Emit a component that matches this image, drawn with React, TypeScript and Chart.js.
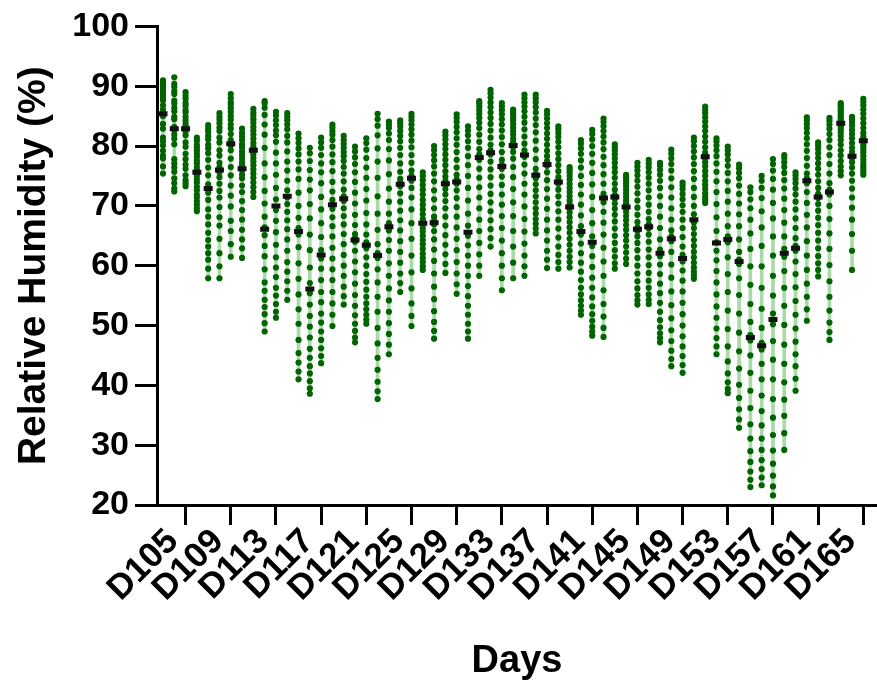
import React, { useEffect, useRef } from "react";
import { Chart, registerables } from "chart.js";

Chart.register(...registerables);

const days: number[] = [
  105, 106, 107, 108, 109, 110, 111, 112, 113, 114, 115, 116, 117, 118, 119, 120,
  121, 122, 123, 124, 125, 126, 127, 128, 129, 130, 131, 132, 133, 134, 135, 136,
  137, 138, 139, 140, 141, 142, 143, 144, 145, 146, 147, 148, 149, 150, 151, 152,
  153, 154, 155, 156, 157, 158, 159, 160, 161, 162, 163, 164, 165, 166, 167,
];

const tickDays: number[] = [105, 109, 113, 117, 121, 125, 129, 133, 137, 141, 145, 149, 153, 157, 161, 165];
const tickLabels: string[] = [
  "D105", "D109", "D113", "D117", "D121", "D125", "D129", "D133",
  "D137", "D141", "D145", "D149", "D153", "D157", "D161", "D165",
];

// hourly relative humidity readings for each day (%)
const humidity: number[][] = [
  [91.0, 90.5, 90.3, 89.9, 89.6, 89.1, 88.8, 88.4, 87.9, 87.6, 86.8, 86.1, 85.4, 85.0, 83.7, 82.9, 81.4, 80.8, 80.1, 79.2, 78.4, 77.9, 76.6, 75.4],
  [91.5, 90.4, 89.9, 89.2, 88.7, 87.6, 87.1, 86.4, 85.8, 84.9, 84.5, 83.2, 82.7, 81.9, 81.2, 80.3, 77.8, 77.1, 76.4, 75.7, 74.6, 73.8, 72.9, 72.4],
  [89.0, 88.4, 87.9, 87.2, 86.7, 86.0, 85.6, 84.9, 84.3, 83.7, 83.3, 82.9, 82.4, 81.8, 80.6, 79.9, 78.7, 77.8, 76.9, 76.2, 75.1, 74.3, 73.8, 73.3],
  [81.4, 80.9, 80.2, 79.8, 79.3, 78.7, 78.2, 77.6, 77.1, 76.5, 76.0, 75.8, 75.4, 75.0, 74.4, 73.9, 73.2, 72.6, 71.9, 71.4, 70.8, 70.2, 69.6, 69.1],
  [83.5, 82.9, 82.4, 81.7, 81.1, 80.2, 79.6, 78.8, 77.7, 76.4, 75.1, 73.6, 72.2, 71.0, 69.4, 68.2, 66.9, 65.5, 64.3, 63.2, 62.1, 61.0, 59.5, 57.9],
  [85.5, 84.9, 84.4, 83.8, 83.1, 82.5, 81.4, 80.6, 79.3, 78.4, 77.2, 76.5, 75.6, 74.8, 73.7, 72.5, 71.4, 69.8, 68.1, 66.7, 64.5, 62.1, 59.9, 57.9],
  [88.7, 88.0, 87.3, 86.9, 86.3, 85.7, 85.0, 84.4, 83.6, 82.9, 82.0, 81.0, 80.1, 79.3, 77.9, 76.5, 75.1, 73.4, 71.7, 69.9, 67.5, 65.8, 63.6, 61.5],
  [82.9, 82.2, 81.6, 81.0, 80.3, 79.8, 79.1, 78.5, 77.9, 77.3, 76.8, 76.4, 75.9, 75.2, 74.6, 73.4, 72.3, 70.8, 69.3, 67.7, 66.0, 64.4, 62.9, 61.3],
  [86.2, 85.6, 85.1, 84.5, 83.9, 83.2, 82.6, 81.9, 81.2, 80.5, 79.9, 79.5, 79.1, 78.6, 78.0, 77.4, 76.8, 76.1, 75.4, 74.7, 73.9, 73.1, 72.3, 71.5],
  [87.5, 87.1, 86.4, 85.2, 83.6, 81.9, 79.7, 77.1, 74.8, 72.5, 70.4, 68.2, 66.4, 65.1, 63.3, 61.6, 59.4, 57.2, 55.8, 54.3, 53.1, 51.9, 50.4, 49.0],
  [85.7, 85.1, 84.3, 83.5, 82.6, 81.8, 80.7, 78.9, 77.1, 75.2, 73.0, 71.1, 69.3, 67.5, 65.6, 63.5, 61.4, 59.7, 58.1, 56.3, 55.0, 53.6, 52.3, 51.3],
  [85.5, 84.9, 84.3, 83.6, 82.8, 81.7, 80.6, 79.1, 77.4, 75.9, 74.2, 72.6, 71.4, 70.3, 69.0, 67.6, 66.1, 64.4, 62.5, 60.6, 59.0, 57.4, 55.8, 54.3],
  [82.1, 81.3, 80.5, 79.6, 78.6, 77.4, 76.1, 74.5, 72.2, 70.0, 68.0, 66.3, 65.2, 63.1, 60.4, 57.8, 55.2, 52.7, 50.3, 47.6, 45.4, 43.8, 42.3, 41.0],
  [79.7, 78.8, 77.5, 76.0, 74.4, 72.6, 70.3, 67.9, 65.2, 62.6, 59.7, 57.1, 55.4, 53.5, 51.6, 49.8, 48.0, 46.1, 44.6, 43.2, 42.0, 40.7, 39.5, 38.6],
  [81.4, 80.6, 79.7, 78.5, 77.1, 75.6, 73.8, 71.5, 69.4, 67.1, 64.8, 62.6, 61.2, 59.5, 57.6, 55.6, 53.9, 52.0, 50.5, 49.0, 47.6, 46.2, 44.9, 43.7],
  [83.6, 83.1, 82.5, 81.9, 81.0, 79.9, 78.6, 77.3, 75.8, 74.0, 72.4, 71.0, 69.5, 68.1, 66.6, 64.9, 63.0, 61.2, 59.4, 57.6, 55.6, 53.7, 51.8, 49.9],
  [81.7, 81.0, 80.4, 79.7, 79.0, 78.3, 77.5, 76.5, 75.4, 74.1, 72.7, 71.6, 70.8, 69.6, 68.3, 66.9, 65.3, 63.6, 61.8, 60.0, 58.3, 56.5, 54.9, 53.5],
  [79.9, 79.1, 78.1, 77.0, 75.6, 74.0, 72.2, 70.4, 68.5, 66.8, 65.3, 64.6, 64.0, 62.5, 60.7, 58.9, 57.0, 55.1, 53.3, 51.7, 50.3, 49.1, 48.0, 47.2],
  [81.3, 80.5, 79.4, 78.0, 76.4, 74.7, 72.8, 70.9, 68.8, 66.9, 65.2, 63.9, 62.9, 61.4, 60.0, 58.6, 57.3, 56.0, 54.8, 53.7, 52.7, 51.8, 51.0, 50.3],
  [85.4, 84.5, 83.4, 81.8, 79.6, 77.4, 74.7, 71.6, 68.7, 66.0, 63.6, 62.1, 61.3, 59.4, 57.2, 54.8, 52.3, 49.6, 47.0, 44.6, 42.6, 40.6, 39.0, 37.7],
  [84.1, 83.6, 83.0, 82.1, 81.0, 79.5, 77.6, 75.3, 72.9, 70.7, 68.7, 67.1, 65.9, 64.3, 62.5, 60.4, 58.3, 56.2, 54.2, 52.3, 50.4, 48.6, 46.8, 45.2],
  [84.3, 83.8, 83.2, 82.5, 81.7, 80.8, 79.7, 78.5, 77.1, 75.7, 74.5, 73.9, 73.3, 72.1, 70.7, 69.2, 67.6, 65.9, 64.1, 62.3, 60.5, 58.7, 57.1, 55.6],
  [85.4, 84.9, 84.3, 83.6, 82.8, 81.9, 80.9, 79.8, 78.5, 77.2, 75.9, 75.0, 74.2, 73.0, 71.4, 69.4, 67.1, 64.5, 61.7, 58.9, 56.2, 53.7, 51.6, 49.9],
  [75.6, 75.0, 74.3, 73.5, 72.7, 71.9, 71.0, 70.2, 69.4, 68.6, 67.8, 67.3, 66.9, 66.3, 65.7, 65.0, 64.3, 63.6, 62.8, 62.0, 61.3, 60.6, 59.9, 59.3],
  [80.0, 79.3, 78.5, 77.6, 76.6, 75.4, 74.1, 72.6, 71.1, 69.6, 68.2, 67.5, 66.9, 65.8, 64.4, 62.7, 60.8, 58.7, 56.5, 54.4, 52.4, 50.6, 49.1, 47.8],
  [82.4, 81.8, 81.1, 80.3, 79.5, 78.6, 77.7, 76.8, 75.8, 74.9, 74.2, 73.9, 73.5, 72.8, 71.9, 70.8, 69.6, 68.2, 66.7, 65.1, 63.5, 61.9, 60.3, 58.8],
  [85.3, 84.7, 84.0, 83.2, 82.3, 81.3, 80.2, 79.0, 77.7, 76.4, 75.2, 74.4, 73.7, 72.6, 71.3, 69.8, 68.2, 66.4, 64.5, 62.6, 60.6, 58.7, 56.9, 55.3],
  [83.3, 82.6, 81.8, 80.8, 79.7, 78.3, 76.8, 75.0, 73.0, 70.9, 68.7, 66.7, 65.0, 63.4, 61.7, 60.0, 58.3, 56.6, 54.9, 53.3, 51.8, 50.3, 49.0, 47.8],
  [87.5, 87.1, 86.6, 86.0, 85.4, 84.7, 83.9, 83.0, 81.9, 80.7, 79.5, 78.6, 77.7, 76.2, 74.7, 73.1, 71.4, 69.6, 67.7, 65.8, 63.8, 61.9, 60.0, 58.3],
  [89.4, 88.8, 88.1, 87.3, 86.5, 85.6, 84.7, 83.7, 82.6, 81.4, 80.2, 79.3, 78.6, 77.4, 76.1, 74.8, 73.4, 72.0, 70.6, 69.1, 67.6, 66.1, 64.6, 63.2],
  [87.2, 86.6, 86.0, 85.3, 84.5, 83.6, 82.6, 81.5, 80.3, 79.0, 77.7, 76.9, 76.2, 74.9, 73.5, 71.9, 70.2, 68.3, 66.3, 64.2, 62.1, 60.0, 57.9, 55.9],
  [86.1, 85.7, 85.3, 84.8, 84.3, 83.7, 83.1, 82.5, 81.9, 81.2, 80.6, 80.3, 79.8, 79.0, 77.9, 76.5, 74.8, 72.8, 70.6, 68.3, 65.8, 63.2, 60.5, 57.9],
  [88.6, 88.0, 87.3, 86.6, 85.8, 84.9, 83.9, 82.8, 81.6, 80.4, 79.3, 78.8, 78.2, 76.9, 75.4, 73.7, 71.9, 69.9, 67.8, 65.7, 63.7, 61.7, 59.9, 58.3],
  [88.6, 88.0, 87.3, 86.5, 85.6, 84.6, 83.5, 82.3, 80.9, 79.4, 77.8, 76.2, 75.3, 74.6, 73.6, 72.6, 71.6, 70.6, 69.6, 68.7, 67.8, 67.0, 66.2, 65.4],
  [85.9, 85.3, 84.6, 83.8, 83.0, 82.1, 81.2, 80.2, 79.2, 78.3, 77.5, 77.1, 76.7, 75.6, 74.3, 72.8, 71.2, 69.5, 67.7, 65.9, 64.2, 62.5, 61.0, 59.6],
  [83.3, 82.8, 82.2, 81.5, 80.7, 79.8, 78.8, 77.8, 76.8, 75.8, 74.8, 74.2, 73.7, 72.7, 71.6, 70.4, 69.1, 67.7, 66.2, 64.7, 63.2, 61.8, 60.6, 59.5],
  [76.5, 76.1, 75.6, 75.0, 74.4, 73.7, 73.0, 72.3, 71.6, 70.9, 70.3, 70.0, 69.6, 68.9, 68.1, 67.3, 66.4, 65.5, 64.5, 63.5, 62.5, 61.5, 60.6, 59.7],
  [81.0, 80.4, 79.6, 78.7, 77.6, 76.4, 75.0, 73.5, 71.9, 70.2, 68.4, 66.6, 65.2, 63.7, 62.1, 60.5, 59.0, 57.6, 56.3, 55.2, 54.2, 53.3, 52.5, 51.8],
  [82.7, 82.0, 81.1, 80.0, 78.7, 77.2, 75.5, 73.6, 71.5, 69.3, 67.1, 64.9, 63.3, 61.6, 59.8, 58.0, 56.3, 54.7, 53.2, 51.9, 50.8, 49.8, 49.0, 48.3],
  [84.6, 84.0, 83.3, 82.5, 81.6, 80.6, 79.5, 78.2, 76.8, 75.3, 73.7, 72.0, 70.6, 69.0, 67.2, 65.2, 63.0, 60.7, 58.3, 55.9, 53.6, 51.5, 49.6, 48.1],
  [80.3, 79.8, 79.2, 78.6, 77.9, 77.2, 76.4, 75.6, 74.7, 73.7, 72.7, 71.8, 71.2, 70.4, 69.5, 68.5, 67.4, 66.2, 65.0, 63.8, 62.6, 61.5, 60.4, 59.5],
  [75.2, 74.8, 74.3, 73.8, 73.3, 72.7, 72.1, 71.5, 70.9, 70.4, 70.0, 69.9, 69.6, 69.0, 68.3, 67.6, 66.8, 66.0, 65.1, 64.2, 63.2, 62.2, 61.2, 60.3],
  [77.2, 76.6, 75.9, 75.1, 74.2, 73.2, 72.1, 70.9, 69.7, 68.5, 67.3, 66.4, 65.8, 64.9, 63.8, 62.6, 61.3, 60.0, 58.7, 57.4, 56.2, 55.1, 54.2, 53.5],
  [77.7, 77.1, 76.4, 75.6, 74.7, 73.7, 72.6, 71.4, 70.2, 69.0, 67.8, 66.9, 66.2, 65.2, 64.0, 62.7, 61.4, 60.1, 58.8, 57.5, 56.3, 55.2, 54.3, 53.6],
  [77.2, 76.7, 76.0, 75.2, 74.2, 73.0, 71.6, 70.0, 68.2, 66.3, 64.4, 62.7, 61.6, 60.2, 58.6, 57.0, 55.4, 53.8, 52.3, 50.9, 49.7, 48.7, 47.9, 47.2],
  [79.4, 78.7, 77.9, 77.0, 75.9, 74.6, 73.1, 71.4, 69.6, 67.7, 65.9, 64.9, 64.1, 62.3, 60.2, 58.0, 55.7, 53.4, 51.2, 49.2, 47.4, 45.8, 44.4, 43.2],
  [73.9, 73.4, 72.8, 72.0, 71.1, 70.1, 69.0, 67.7, 66.3, 64.8, 63.2, 61.8, 60.7, 59.2, 57.5, 55.7, 53.8, 51.9, 50.0, 48.2, 46.5, 44.9, 43.4, 42.1],
  [81.4, 80.8, 80.0, 79.1, 78.1, 77.0, 75.8, 74.5, 73.0, 71.5, 70.0, 68.6, 67.2, 66.3, 65.3, 64.3, 63.3, 62.3, 61.4, 60.5, 59.7, 59.0, 58.4, 57.8],
  [86.6, 86.1, 85.5, 84.8, 84.1, 83.3, 82.5, 81.6, 80.7, 79.8, 78.9, 78.4, 78.0, 77.3, 76.6, 75.8, 75.0, 74.2, 73.5, 72.8, 72.1, 71.5, 71.0, 70.5],
  [81.3, 80.8, 80.1, 79.3, 78.3, 77.1, 75.7, 74.1, 72.3, 70.3, 68.1, 65.8, 63.9, 62.5, 60.9, 59.1, 57.2, 55.2, 53.2, 51.3, 49.5, 47.9, 46.5, 45.2],
  [79.9, 79.3, 78.6, 77.7, 76.7, 75.5, 74.1, 72.5, 70.7, 68.7, 66.6, 64.9, 63.9, 61.4, 58.6, 55.6, 52.5, 49.4, 46.5, 44.0, 42.0, 40.5, 39.4, 38.7],
  [76.9, 76.3, 75.5, 74.6, 73.4, 72.0, 70.4, 68.6, 66.6, 64.4, 62.3, 61.0, 60.3, 57.9, 55.1, 52.0, 48.8, 45.7, 42.8, 40.1, 37.9, 36.0, 34.3, 32.9],
  [73.1, 72.3, 71.1, 69.6, 67.7, 65.4, 62.8, 59.9, 56.8, 53.6, 50.6, 48.4, 47.5, 45.0, 42.1, 39.1, 36.2, 33.5, 31.1, 29.0, 27.2, 25.6, 24.2, 23.0],
  [75.0, 74.2, 73.0, 71.3, 69.1, 66.4, 63.3, 59.9, 56.3, 52.8, 49.6, 47.1, 46.0, 43.6, 41.0, 38.3, 35.7, 33.3, 31.1, 29.2, 27.5, 26.0, 24.6, 23.3],
  [77.8, 77.0, 75.9, 74.5, 72.7, 70.5, 67.9, 64.9, 61.7, 58.3, 55.0, 52.0, 50.2, 47.4, 44.3, 41.0, 37.7, 34.6, 31.7, 29.1, 26.9, 24.9, 23.1, 21.6],
  [78.5, 78.0, 77.3, 76.5, 75.5, 74.3, 72.9, 71.2, 69.3, 67.2, 64.9, 62.8, 61.5, 59.1, 56.3, 53.3, 50.1, 46.8, 43.6, 40.5, 37.6, 34.9, 32.0, 29.2],
  [75.6, 75.1, 74.5, 73.8, 72.9, 71.9, 70.7, 69.4, 67.9, 66.3, 64.6, 63.3, 62.5, 60.7, 58.6, 56.4, 54.1, 51.8, 49.5, 47.3, 45.2, 43.2, 41.1, 39.1],
  [84.8, 84.3, 83.7, 83.0, 82.2, 81.3, 80.3, 79.2, 78.0, 76.7, 75.4, 74.6, 73.8, 72.3, 70.5, 68.5, 66.4, 64.1, 61.7, 59.3, 57.0, 54.8, 52.7, 50.8],
  [80.6, 80.1, 79.5, 78.8, 78.0, 77.1, 76.2, 75.2, 74.1, 73.0, 72.0, 71.7, 71.3, 70.3, 69.2, 68.0, 66.8, 65.5, 64.2, 62.9, 61.6, 60.4, 59.3, 58.2],
  [84.7, 84.2, 83.6, 82.9, 82.0, 81.0, 79.8, 78.5, 77.0, 75.4, 73.8, 72.7, 71.9, 70.0, 67.8, 65.4, 62.8, 60.1, 57.4, 54.8, 52.5, 50.5, 48.9, 47.6],
  [87.2, 86.9, 86.6, 86.2, 85.8, 85.4, 85.0, 84.6, 84.2, 83.9, 83.7, 83.5, 83.2, 82.8, 82.3, 81.7, 81.0, 80.2, 79.3, 78.4, 77.5, 76.6, 75.8, 75.1],
  [84.9, 84.5, 84.0, 83.4, 82.7, 82.0, 81.3, 80.5, 79.7, 79.0, 78.5, 78.3, 78.0, 77.3, 76.4, 75.4, 74.2, 72.9, 71.4, 69.7, 67.7, 65.3, 62.5, 59.3],
  [87.9, 87.4, 86.8, 86.1, 85.4, 84.6, 83.8, 83.0, 82.2, 81.6, 81.1, 80.9, 80.7, 80.3, 79.9, 79.4, 78.9, 78.3, 77.7, 77.1, 76.6, 76.1, 75.6, 75.2],
];

// central value marker per day (%)
const medians: number[] = [
  85.4, 82.9, 82.9, 75.6, 72.9, 76.0, 80.4, 76.2, 79.3, 66.1, 70.0, 71.6, 65.7, 56.1, 61.8, 70.2,
  71.2, 64.3, 63.4, 61.7, 66.5, 73.6, 74.6, 67.1, 67.2, 73.7, 74.0, 65.6, 78.1, 78.9, 76.6, 80.1,
  78.5, 75.1, 76.9, 74.0, 69.8, 65.7, 63.9, 71.3, 71.5, 69.8, 66.1, 66.5, 62.1, 64.5, 61.2, 67.7,
  78.2, 63.8, 64.4, 60.7, 48.0, 46.6, 51.0, 62.1, 62.9, 74.2, 71.5, 72.3, 83.8, 78.3, 80.9,
];

const FONT = "'Liberation Sans', Arial, Helvetica, sans-serif";

export default function App() {
  const ref = useRef<HTMLCanvasElement | null>(null);

  useEffect(() => {
    if (!ref.current) return;
    const points: { x: number; y: number }[] = [];
    days.forEach((d, i) => humidity[i].forEach((v) => points.push({ x: d, y: v })));
    const ranges = days.map((d, i) => ({ x: d, y: [Math.min(...humidity[i]), Math.max(...humidity[i])] }));
    const meds = days.map((d, i) => ({ x: d, y: medians[i] }));

    const chart = new Chart(ref.current, {
      type: "scatter",
      data: {
        datasets: [
          {
            type: "scatter",
            data: meds,
            pointStyle: "line",
            pointRadius: 4.5,
            borderColor: "#111111",
            backgroundColor: "#111111",
            borderWidth: 5,
            order: 1,
          } as any,
          {
            type: "scatter",
            data: points,
            pointRadius: 3.1,
            backgroundColor: "#006400",
            borderColor: "#006400",
            borderWidth: 0,
            order: 2,
          } as any,
          {
            type: "bar",
            data: ranges,
            backgroundColor: "#a8dba8",
            borderWidth: 0,
            barThickness: 3,
            grouped: false,
            order: 3,
          } as any,
        ],
      },
      options: {
        animation: false,
        responsive: false,
        maintainAspectRatio: false,
        layout: { autoPadding: false, padding: { top: 22, left: 0, right: 0, bottom: 0 } },
        plugins: { legend: { display: false }, tooltip: { enabled: false } },
        scales: {
          x: {
            type: "linear",
            min: 104.47,
            max: 168.21,
            offset: false,
            afterBuildTicks: (scale: any) => {
              scale.ticks = tickDays.map((v) => ({ value: v }));
            },
            afterFit: (scale: any) => {
              scale.height = 181;
              scale.paddingRight = 0;
              scale.paddingLeft = 0;
            },
            ticks: {
              autoSkip: false,
              minRotation: 45,
              maxRotation: 45,
              padding: -4,
              labelOffset: 10,
              color: "#000",
              font: { family: FONT, size: 35, weight: "bold" },
              callback: (value: any) => {
                const idx = tickDays.indexOf(Number(value));
                return idx >= 0 ? tickLabels[idx] : "";
              },
            },
            grid: {
              drawOnChartArea: false,
              drawTicks: true,
              tickLength: 20,
              tickWidth: 3,
              tickColor: "#000",
            },
            border: { display: true, color: "#000", width: 3 },
            title: {
              display: true,
              text: "Days",
              color: "#000",
              font: { family: FONT, size: 38, weight: "bold" },
              padding: { top: 0, bottom: 2 },
            },
          },
          y: {
            type: "linear",
            min: 20,
            max: 100,
            afterFit: (scale: any) => {
              scale.width = 157;
            },
            ticks: {
              stepSize: 10,
              padding: 6,
              color: "#000",
              font: { family: FONT, size: 34, weight: "bold" },
            },
            grid: {
              drawOnChartArea: false,
              drawTicks: true,
              tickLength: 22,
              tickWidth: 3,
              tickColor: "#000",
            },
            border: { display: true, color: "#000", width: 3 },
            title: {
              display: true,
              text: "Relative Humidity (%)",
              color: "#000",
              font: { family: FONT, size: 39, weight: "bold" },
              padding: { top: 11, bottom: 0 },
            },
          },
        },
      } as any,
    });
    return () => chart.destroy();
  }, []);

  return (
    <div style={{ position: "absolute", left: 0, top: 0, width: 877, height: 686, background: "#fff" }}>
      <canvas ref={ref} width={877} height={686} style={{ display: "block" }} />
    </div>
  );
}
